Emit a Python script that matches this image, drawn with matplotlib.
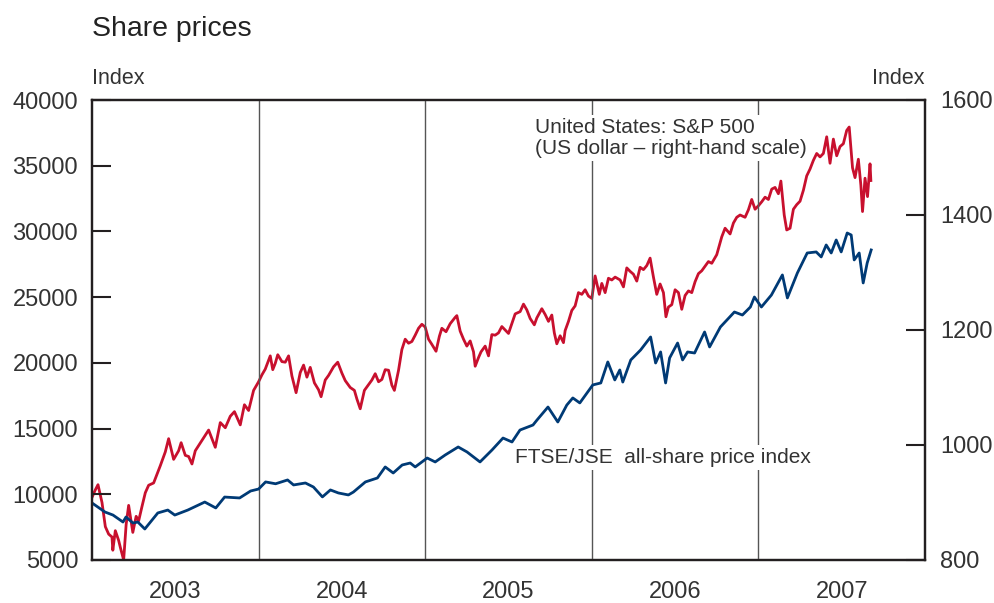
import matplotlib
matplotlib.use("Agg")
import matplotlib.pyplot as plt

plt.rcParams['font.family'] = ['Liberation Sans', 'DejaVu Sans']

# FTSE/JSE all-share index (left scale), time in decimal years
jse_t = [2003.00, 2003.078, 2003.126, 2003.186, 2003.204, 2003.246, 2003.275, 2003.317,
         2003.395, 2003.455, 2003.497, 2003.575, 2003.677, 2003.743, 2003.796, 2003.886,
         2003.952, 2004.000, 2004.042, 2004.102, 2004.174, 2004.210, 2004.281, 2004.329,
         2004.383, 2004.431, 2004.479, 2004.539, 2004.569, 2004.641, 2004.713, 2004.760,
         2004.808, 2004.862, 2004.910, 2004.940, 2005.012, 2005.060, 2005.120, 2005.198,
         2005.251, 2005.329, 2005.401, 2005.467, 2005.521, 2005.569, 2005.647, 2005.671,
         2005.737, 2005.796, 2005.850, 2005.886, 2005.928, 2006.006, 2006.054, 2006.096,
         2006.138, 2006.168, 2006.186, 2006.234, 2006.293, 2006.353, 2006.383, 2006.413,
         2006.443, 2006.467, 2006.515, 2006.545, 2006.575, 2006.617, 2006.677, 2006.707,
         2006.772, 2006.856, 2006.904, 2006.952, 2006.976, 2007.018, 2007.078, 2007.144,
         2007.174, 2007.234, 2007.293, 2007.347, 2007.377, 2007.407, 2007.437, 2007.467,
         2007.497, 2007.533, 2007.557, 2007.575, 2007.605, 2007.629, 2007.653, 2007.677]
jse_v = [9340, 8650, 8420, 7890, 8270, 7815, 7890, 7360,
         8580, 8800, 8420, 8800, 9410, 8960, 9790, 9720,
         10250, 10400, 10940, 10800, 11090, 10710, 10860, 10555,
         9800, 10330, 10100, 9950, 10170, 10940, 11240, 12080,
         11620, 12230, 12380, 12080, 12760, 12460, 12990, 13600,
         13220, 12460, 13370, 14280, 13980, 14890, 15270, 15650,
         16640, 15500, 16790, 17330, 16950, 18320, 18470, 20070,
         18700, 19460, 18540, 20220, 20980, 21970, 19990, 20830,
         18470, 20370, 21510, 20220, 20830, 20750, 22350, 21210,
         22730, 23870, 23640, 24250, 25010, 24250, 25160, 26690,
         24940, 26840, 28360, 28440, 28060, 28970, 28360, 29350,
         28440, 29880, 29730, 27830, 28360, 26080, 27600, 28590]

# S&P 500 (right scale)
spx_t = [2003.00, 2003.02, 2003.036, 2003.06, 2003.08, 2003.10, 2003.12, 2003.125, 2003.14,
         2003.16, 2003.17, 2003.19, 2003.205, 2003.22, 2003.245, 2003.265, 2003.28, 2003.30,
         2003.32, 2003.34, 2003.37, 2003.39, 2003.41, 2003.44, 2003.46, 2003.49, 2003.52,
         2003.535, 2003.56, 2003.58, 2003.60, 2003.62, 2003.66, 2003.70, 2003.74, 2003.77,
         2003.80, 2003.83, 2003.855, 2003.89, 2003.915, 2003.94, 2003.97,
         2004.00, 2004.02, 2004.04, 2004.07, 2004.085, 2004.10, 2004.115, 2004.14, 2004.16,
         2004.18, 2004.20, 2004.225, 2004.25, 2004.27, 2004.29, 2004.31, 2004.335, 2004.36,
         2004.375, 2004.40, 2004.42, 2004.45, 2004.475, 2004.50, 2004.52, 2004.55, 2004.575,
         2004.59, 2004.61, 2004.635, 2004.66, 2004.68, 2004.70, 2004.72, 2004.74, 2004.76,
         2004.78, 2004.80, 2004.815, 2004.84, 2004.86, 2004.88, 2004.90, 2004.92, 2004.94,
         2004.96, 2004.98,
         2005.00, 2005.02, 2005.04, 2005.065, 2005.085, 2005.10, 2005.125, 2005.15, 2005.18,
         2005.19, 2005.21, 2005.23, 2005.25, 2005.27, 2005.29, 2005.30, 2005.32, 2005.335,
         2005.36, 2005.38, 2005.40, 2005.42, 2005.44, 2005.46, 2005.48, 2005.50, 2005.52,
         2005.54, 2005.57, 2005.59, 2005.61, 2005.63, 2005.655, 2005.67, 2005.70, 2005.72,
         2005.74, 2005.76, 2005.775, 2005.79, 2005.81, 2005.83, 2005.84, 2005.86, 2005.88,
         2005.90, 2005.92, 2005.94, 2005.96, 2005.98,
         2006.00, 2006.02, 2006.045, 2006.06, 2006.08, 2006.10, 2006.12, 2006.14, 2006.17,
         2006.19, 2006.21, 2006.23, 2006.25, 2006.27, 2006.29, 2006.31, 2006.33, 2006.35,
         2006.37, 2006.39, 2006.41, 2006.43, 2006.445, 2006.46, 2006.48, 2006.50, 2006.52,
         2006.54, 2006.56, 2006.58, 2006.60, 2006.62, 2006.64, 2006.66, 2006.68, 2006.70,
         2006.72, 2006.75, 2006.78, 2006.80, 2006.83, 2006.85, 2006.87, 2006.89, 2006.92,
         2006.94, 2006.96, 2006.98,
         2007.00, 2007.02, 2007.04, 2007.06, 2007.08, 2007.10, 2007.12, 2007.135, 2007.155,
         2007.17, 2007.19, 2007.21, 2007.23, 2007.25, 2007.27, 2007.29, 2007.31, 2007.33,
         2007.35, 2007.37, 2007.39, 2007.41, 2007.43, 2007.45, 2007.47, 2007.49, 2007.51,
         2007.53, 2007.545, 2007.565, 2007.58, 2007.60, 2007.615, 2007.625, 2007.64, 2007.655,
         2007.67, 2007.675]
spx_v = [909, 922, 931, 900, 858, 845, 840, 817, 851,
         834, 822, 800, 862, 895, 848, 876, 868, 893,
         917, 930, 934, 949, 964, 988, 1011, 975, 990,
         1004, 982, 980, 967, 990, 1008, 1026, 996, 1039,
         1030, 1050, 1058, 1035, 1070, 1060, 1095,
         1110, 1122, 1132, 1155, 1131, 1142, 1157, 1145, 1144,
         1155, 1120, 1091, 1126, 1139, 1118, 1135, 1108, 1096,
         1084, 1113, 1121, 1136, 1144, 1125, 1112, 1100, 1095,
         1080, 1063, 1095, 1105, 1113, 1124, 1110, 1114, 1131,
         1130, 1104, 1095, 1130, 1166, 1184, 1177, 1180, 1191,
         1203, 1210,
         1205, 1184, 1175, 1163, 1189, 1203, 1197, 1211, 1222,
         1225, 1198, 1184, 1172, 1181, 1162, 1137, 1152, 1162,
         1172, 1155, 1192, 1191, 1195, 1206, 1200, 1194, 1211,
         1228, 1232, 1245, 1235, 1220, 1209, 1221, 1237, 1227,
         1215, 1226, 1195, 1176, 1190, 1178, 1199, 1215, 1234,
         1242, 1265, 1262, 1270, 1259,
         1255, 1294, 1262, 1281, 1265, 1290, 1287, 1292, 1287,
         1275, 1308, 1302, 1297, 1285, 1309, 1305, 1312, 1325,
         1292, 1262, 1280, 1265, 1223, 1240, 1244, 1270, 1265,
         1236, 1260, 1268, 1265, 1284, 1298, 1303, 1311, 1319,
         1316, 1331, 1362, 1377, 1367, 1386, 1396, 1400, 1396,
         1409, 1427, 1410,
         1416, 1423, 1431, 1427, 1445, 1448, 1437, 1459, 1400,
         1374, 1377, 1410, 1418, 1424, 1443, 1468, 1480, 1495,
         1507, 1501, 1507, 1536, 1490, 1532, 1503, 1519, 1524,
         1547, 1553, 1482, 1465, 1497, 1452, 1406, 1464, 1432,
         1489, 1460]

years = [2003, 2004, 2005, 2006, 2007]
left_ticks = [5000, 10000, 15000, 20000, 25000, 30000, 35000, 40000]
right_ticks = [800, 1000, 1200, 1400, 1600]

red = '#c8102e'
blue = '#003a75'
dark = '#231f20'
txt = '#333333'

fig = plt.figure(figsize=(9.94, 6.03), dpi=100)
ax = fig.add_axes([92 / 994, 1 - 560 / 603, 833 / 994, 460 / 603])
ax2 = ax.twinx()

# blue on top of red
ax.set_zorder(ax2.get_zorder() + 1)
ax.patch.set_visible(False)

ax2.plot(spx_t, spx_v, color=red, lw=2.0)
ax.plot(jse_t, jse_v, color=blue, lw=2.0)

ax.set_xlim(2003, 2008)
ax.set_ylim(5000, 40000)
ax2.set_ylim(800, 1600)

# year separators
for y in years[1:]:
    ax.axvline(y, color='#555555', lw=1.0, zorder=1)

ax.set_xticks([y + 0.5 for y in years])
ax.set_xticklabels([str(y) for y in years])
ax.tick_params(axis='x', length=0, pad=15, labelsize=17, labelcolor=txt)

ax.set_yticks(left_ticks)
ax.set_yticklabels([str(v) for v in left_ticks])
ax.tick_params(axis='y', direction='in', length=14, width=1.5, color=dark,
               pad=10, labelsize=17, labelcolor=txt)
ax2.set_yticks(right_ticks)
ax2.set_yticklabels([str(v) for v in right_ticks])
ax2.tick_params(axis='y', direction='in', length=14, width=1.5, color=dark,
                pad=11, labelsize=17, labelcolor=txt)

for a in (ax, ax2):
    for s in a.spines.values():
        s.set_linewidth(1.6)
        s.set_color(dark)

# series labels
box = dict(facecolor='white', edgecolor='none', pad=2)
ax.text(2005.66, 37100, 'United States: S&P 500\n(US dollar – right-hand scale)',
        fontsize=15, color=txt, ha='left', va='center', linespacing=1.15,
        bbox=box, zorder=5)
ax.text(2005.54, 12800, 'FTSE/JSE  all-share price index', fontsize=15, color=txt,
        ha='left', va='center', bbox=box, zorder=5)

fig.text(92 / 994, 1 - 29 / 603, 'Share prices', fontsize=20.5, color='#222222',
         ha='left', va='center')
fig.text(92 / 994, 1 - 78 / 603, 'Index', fontsize=15.5, color=txt,
         ha='left', va='center')
fig.text(925 / 994, 1 - 78 / 603, 'Index', fontsize=15.5, color=txt,
         ha='right', va='center')

fig.savefig('out.png', dpi=100)
